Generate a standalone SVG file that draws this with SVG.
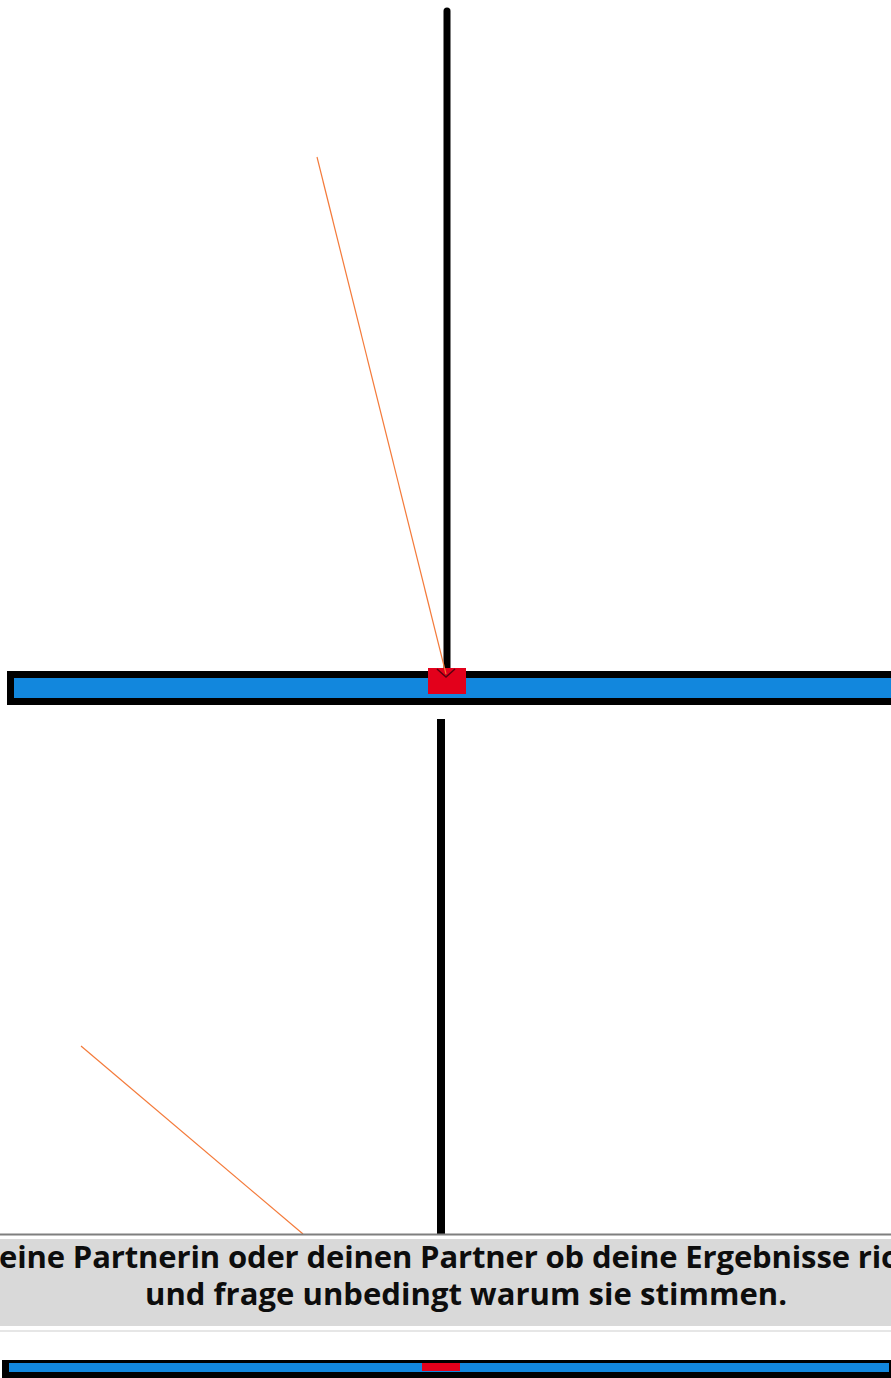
<svg xmlns="http://www.w3.org/2000/svg" width="891" height="1378" viewBox="0 0 891 1378">
<style>
.pole{stroke:#000;stroke-width:8;stroke-linecap:round}
.ray{stroke:#f47a3a;stroke-width:1.2;fill:none}
.txt{font-family:"Open Sans","Liberation Sans",sans-serif;font-weight:700;font-size:31px;fill:#0d0d0d}
</style>
<rect width="891" height="1378" fill="#fff"/>
<g id="top-mirror">
<rect x="10.5" y="674.5" width="890" height="27" fill="#1287dd" stroke="#000" stroke-width="7"/>
</g>
<g id="top-pole">
<line class="pole" x1="447" y1="11" x2="447" y2="668" style="stroke-width:7"/>
</g>
<g id="top-marker">
<rect x="428" y="668" width="38" height="26" fill="#e3001b"/>
<polyline points="437,669 446,677 455,669" fill="none" stroke="#5a0010" stroke-width="1.5"/>
</g>
<g id="bottom-pole">
<line x1="441" y1="719" x2="441" y2="1234" stroke="#000" stroke-width="8"/>
</g>
<g id="connectors">
<line class="ray" x1="317" y1="157" x2="446" y2="674"/>
<line class="ray" x1="81" y1="1046" x2="303" y2="1234"/>
</g>
<g id="caption">
<rect x="0" y="1233.5" width="891" height="2" fill="#7f7f7f"/>
<rect x="0" y="1239" width="891" height="87" fill="#d9d9d9"/>
<rect x="0" y="1330" width="891" height="2" fill="#e6e6e6"/>
<text class="txt" x="-1" y="1268" textLength="898" lengthAdjust="spacing">eine Partnerin oder deinen Partner ob deine Ergebnisse ric</text>
<text class="txt" x="145" y="1305" textLength="642" lengthAdjust="spacing">und frage unbedingt warum sie stimmen.</text>
</g>
<g id="bottom-mirror">
<rect x="2" y="1360" width="891" height="20" fill="#000"/>
<rect x="9" y="1363" width="880" height="9" fill="#1287dd"/>
<rect x="422" y="1363" width="38" height="8" fill="#e3001b"/>
</g>
</svg>
